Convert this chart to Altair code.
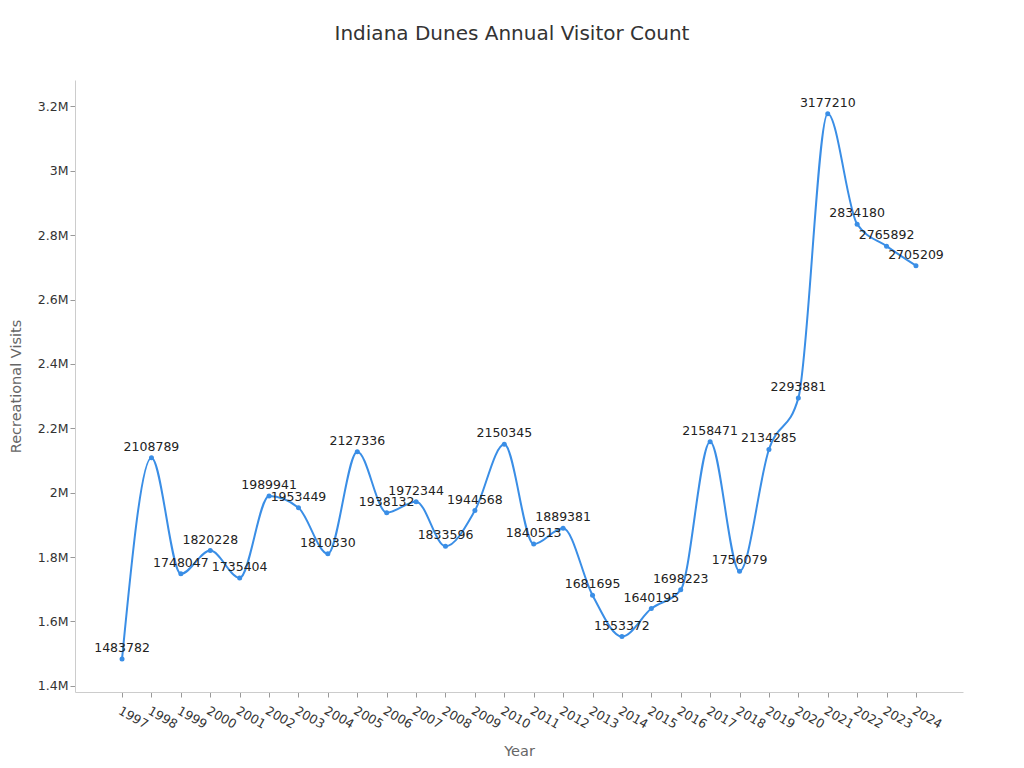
import pandas as pd
import altair as alt

years = list(range(1997, 2025))
visits = [1483782, 2108789, 1748047, 1820228, 1735404, 1989941, 1953449,
          1810330, 2127336, 1938132, 1972344, 1833596, 1944568, 2150345,
          1840513, 1889381, 1681695, 1553372, 1640195, 1698223, 2158471,
          1756079, 2134285, 2293881, 3177210, 2834180, 2765892, 2705209]

df = pd.DataFrame({'Year': years, 'Visits': visits})

x = alt.X('Year:Q', title='Year',
          scale=alt.Scale(domain=[1995.4, 2025.6], nice=False, zero=False),
          axis=alt.Axis(values=years, format='d', labelAngle=30, labelAlign='left',
                        labelBaseline='top', labelFlush=False, labelOverlap=False,
                        grid=False, labelFontSize=12.5, labelColor='#333', titleColor='#666',
                        titleFontSize=14.5, titleFontWeight='normal', titlePadding=14,
                        domainColor='#ccc', tickColor='#999', labelPadding=7))
y = alt.Y('Visits:Q', title='Recreational Visits',
          scale=alt.Scale(domain=[1381000, 3282000], nice=False, zero=False),
          axis=alt.Axis(values=[1400000 + 200000 * i for i in range(10)], format='.2~s',
                        grid=False, labelFontSize=12.5, labelColor='#333', titleColor='#666',
                        titleFontSize=14.5, titleFontWeight='normal', titlePadding=14,
                        domainColor='#ccc', tickColor='#999'))

base = alt.Chart(df).encode(x=x, y=y)

line = base.mark_line(interpolate='monotone', color='#3a8ee6', strokeWidth=2)
points = base.mark_point(filled=True, color='#3a8ee6', size=25, opacity=1)
labels = base.mark_text(dy=-11, fontSize=12.5, color='#222').encode(text='Visits:Q')

chart = (line + points + labels).properties(
    width=888, height=612,
    padding={'top': 16, 'left': 0, 'right': 5, 'bottom': 5},
    title=alt.TitleParams('Indiana Dunes Annual Visitor Count', fontSize=20,
                          fontWeight='normal', color='#333', offset=36, dx=-7)
).configure(font='DejaVu Sans').configure_view(strokeWidth=0, stroke='transparent')

chart.save("out.html", embed_options={"renderer": "svg", "actions": False})
